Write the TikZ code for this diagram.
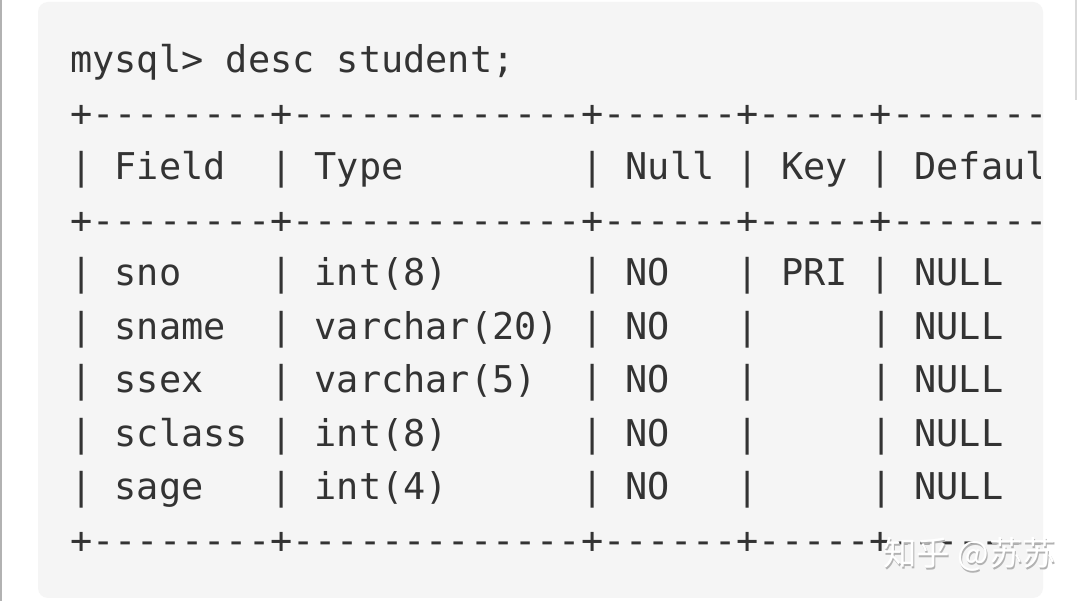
\documentclass[tikz,border=0pt]{standalone}
\usepackage{fontspec}
\setmonofont{DejaVu Sans Mono}
\newfontfamily\cjk{Noto Sans CJK SC}
\definecolor{codebg}{HTML}{F5F5F5}
\definecolor{codetext}{HTML}{333333}

\begin{document}
\begin{tikzpicture}[x=0.02cm,y=-0.02cm,
	codeline/.style={anchor=west,inner sep=0pt,text=codetext,font=\ttfamily\fontsize{21}{22}\selectfont}]
	% canvas and code box
	\useasboundingbox (0,0) rectangle (1080,601);
	\fill[white] (0,0) rectangle (1080,601);
	\draw[gray!60,line width=0.04cm] (1,0) -- (1,601);
	\draw[gray!30,line width=0.04cm] (1076,0) -- (1076,100);
	\fill[codebg,rounded corners=0.2cm] (38,2) rectangle (1043,598);

	% the lines of the listing
	\begin{scope}
		\clip (38,2) rectangle (1040,598);
		\node[codeline] (prompt) at (70,62) {mysql> desc student;};
		\node[codeline] (rule1) at (70,116) {+--------+-------------+------+-----+---------+-------+};
		\node[codeline] (head) at (70,170) {| Field~~| Type~~~~~~~~| Null | Key | Default | Extra |};
		\node[codeline] (rule2) at (70,223) {+--------+-------------+------+-----+---------+-------+};
		\node[codeline] (sno) at (70,276) {| sno~~~~| int(8)~~~~~~| NO~~~| PRI | NULL~~~~|~~~~~~~|};
		\node[codeline] (sname) at (70,330) {| sname~~| varchar(20) | NO~~~|~~~~~| NULL~~~~|~~~~~~~|};
		\node[codeline] (ssex) at (70,383) {| ssex~~~| varchar(5)~~| NO~~~|~~~~~| NULL~~~~|~~~~~~~|};
		\node[codeline] (sclass) at (70,437) {| sclass | int(8)~~~~~~| NO~~~|~~~~~| NULL~~~~|~~~~~~~|};
		\node[codeline] (sage) at (70,490) {| sage~~~| int(4)~~~~~~| NO~~~|~~~~~| NULL~~~~|~~~~~~~|};
		\node[codeline] (rule3) at (70,543) {+--------+-------------+------+-----+---------+-------+};
	\end{scope}

	% watermark
	\node[anchor=west,inner sep=0pt,text=gray!60,font=\cjk\fontsize{19}{21}\selectfont] (markshadow) at (884,556) {知乎 @苏苏};
	\node[anchor=west,inner sep=0pt,text=white,font=\cjk\fontsize{19}{21}\selectfont] (mark) at (883,554) {知乎 @苏苏};
\end{tikzpicture}
\end{document}
